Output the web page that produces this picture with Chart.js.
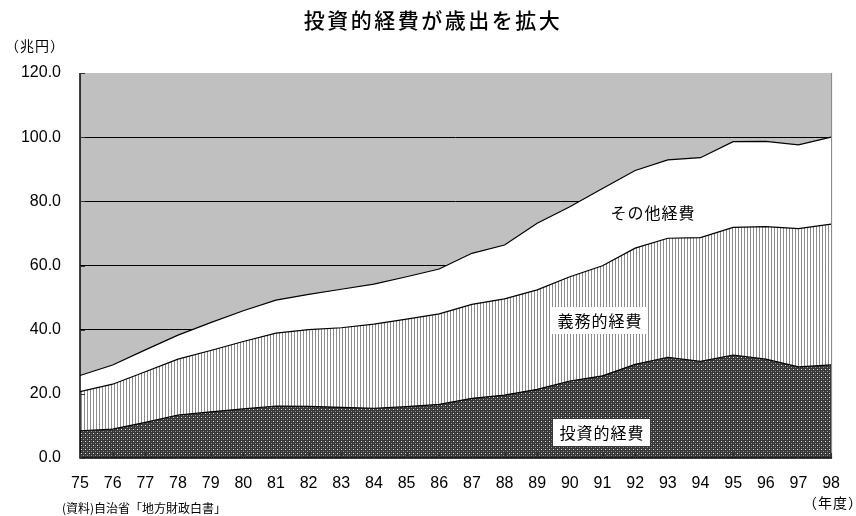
<!DOCTYPE html>
<html>
<head>
<meta charset="utf-8">
<script src="https://cdn.jsdelivr.net/npm/chart.js@4/dist/chart.umd.min.js"></script>
<style>
  html, body { margin: 0; padding: 0; background: #ffffff; }
  #wrap { width: 856px; height: 516px; }
</style>
</head>
<body>
<div id="wrap"><canvas id="c" width="856" height="516"></canvas></div>
<script>
// 年度 (fiscal years)
const years = ['75','76','77','78','79','80','81','82','83','84','85','86',
               '87','88','89','90','91','92','93','94','95','96','97','98'];

// 投資的経費 (兆円)
const investment = [8.5, 9.0, 11.1, 13.4, 14.4, 15.3, 16.2, 16.1, 15.8, 15.5, 16.0, 16.7,
                    18.6, 19.6, 21.4, 24.0, 25.6, 29.2, 31.4, 30.1, 32.1, 30.8, 28.4, 29.0];

// 義務的経費 (兆円)
const mandatory = [12.2, 14.0, 15.8, 17.4, 19.1, 21.0, 22.7, 23.9, 24.8, 26.2, 27.3, 28.2,
                   29.3, 30.0, 31.0, 32.5, 34.3, 36.2, 37.1, 38.6, 39.8, 41.3, 43.1, 43.9];

// その他経費 (兆円)
const other = [5.0, 6.0, 6.8, 7.5, 8.7, 9.6, 10.3, 11.0, 12.0, 12.5, 13.2, 14.0,
               15.9, 16.8, 20.8, 21.8, 24.1, 24.2, 24.4, 24.9, 26.7, 26.6, 26.1, 27.1];

// y-axis range
const yMin = 0, yMax = 120, yStep = 20;

// --- fill patterns ---
function makePattern(w, h, paint) {
  const c = document.createElement('canvas');
  c.width = w; c.height = h;
  const g = c.getContext('2d');
  paint(g);
  return document.getElementById('c').getContext('2d').createPattern(c, 'repeat');
}
// fine dots on dark grey
const dotPattern = makePattern(4, 4, g => {
  g.fillStyle = '#363636'; g.fillRect(0, 0, 4, 4);
  g.fillStyle = '#e8e8e8'; g.fillRect(1, 1, 1, 1);
  g.fillStyle = '#9a9a9a'; g.fillRect(3, 3, 1, 1);
  g.fillStyle = '#5a5a5a'; g.fillRect(3, 1, 1, 1);
  g.fillStyle = '#5a5a5a'; g.fillRect(1, 3, 1, 1);
});
// thin vertical stripes on white
const stripePattern = makePattern(3, 1, g => {
  g.fillStyle = '#ffffff'; g.fillRect(0, 0, 3, 1);
  g.fillStyle = '#8c8c8c'; g.fillRect(0, 0, 1, 1);
});

const CJK = '"Noto Sans CJK JP", "Noto Sans CJK SC", sans-serif';
const NUM = '"Liberation Sans", Arial, sans-serif';

// grey plot background
const plotBackground = {
  id: 'plotBackground',
  beforeDraw(chart) {
    const { ctx, chartArea: a } = chart;
    ctx.save();
    ctx.fillStyle = '#c0c0c0';
    ctx.fillRect(a.left, a.top, a.right - a.left, a.bottom - a.top);
    ctx.restore();
  }
};

// axes, inner tick marks, series labels and captions
const decorations = {
  id: 'decorations',
  afterDatasetsDraw(chart) {
    const { ctx, chartArea: a, scales } = chart;
    const xs = scales.x, ys = scales.y;
    ctx.save();

    // right frame
    ctx.strokeStyle = '#808080';
    ctx.lineWidth = 1;
    ctx.beginPath();
    ctx.moveTo(a.right + 0.5, a.top);
    ctx.lineTo(a.right + 0.5, a.bottom);
    ctx.stroke();

    // axis lines
    ctx.strokeStyle = '#000000';
    ctx.lineWidth = 1.5;
    ctx.beginPath();
    ctx.moveTo(a.left, a.top);
    ctx.lineTo(a.left, a.bottom);
    ctx.lineTo(a.right + 1, a.bottom);
    ctx.stroke();

    // inward tick marks
    ctx.strokeStyle = '#333333';
    ctx.lineWidth = 1;
    ctx.beginPath();
    for (let v = yMin; v <= yMax; v += yStep) {
      const y = Math.round(ys.getPixelForValue(v)) + 0.5;
      ctx.moveTo(a.left, y);
      ctx.lineTo(a.left + 5, y);
    }
    for (let i = 0; i < years.length; i++) {
      const x = Math.round(xs.getPixelForValue(i)) + 0.5;
      ctx.moveTo(x, a.bottom);
      ctx.lineTo(x, a.bottom - 5);
    }
    ctx.stroke();

    // series labels
    ctx.textBaseline = 'middle';
    ctx.textAlign = 'center';
    ctx.font = '16px ' + CJK;
    ctx.letterSpacing = '1px';
    const boxes = [
      { text: 'その他経費', x: 652, y: 212, box: false },
      { text: '義務的経費', x: 599, y: 320, box: true },
      { text: '投資的経費', x: 601, y: 432, box: true }
    ];
    boxes.forEach(b => {
      if (b.box) {
        ctx.fillStyle = '#ffffff';
        ctx.fillRect(b.x - 48, b.y - 13, 97, 27);
      }
      ctx.fillStyle = '#000000';
      ctx.fillText(b.text, b.x + 1, b.y + 1);
    });

    // title
    ctx.font = '500 21px ' + CJK;
    ctx.letterSpacing = '2.5px';
    ctx.fillText('投資的経費が歳出を拡大', 433, 20);

    // unit captions
    ctx.font = '14px ' + CJK;
    ctx.letterSpacing = '1px';
    ctx.textAlign = 'left';
    ctx.fillText('（兆円）', 5, 46);
    ctx.fillText('（年度）', 803, 503);
    ctx.letterSpacing = '0px';
    ctx.font = '12px ' + CJK;
    ctx.fillText('(資料)自治省「地方財政白書」', 62, 508);

    ctx.restore();
  }
};

new Chart(document.getElementById('c'), {
  type: 'line',
  data: {
    labels: years,
    datasets: [
      {
        label: '投資的経費',
        data: investment,
        fill: 'origin',
        backgroundColor: dotPattern,
        borderColor: '#000000',
        borderWidth: 1.2
      },
      {
        label: '義務的経費',
        data: mandatory,
        fill: '-1',
        backgroundColor: stripePattern,
        borderColor: '#000000',
        borderWidth: 1.2
      },
      {
        label: 'その他経費',
        data: other,
        fill: '-1',
        backgroundColor: '#ffffff',
        borderColor: '#000000',
        borderWidth: 1.2
      }
    ]
  },
  options: {
    responsive: false,
    animation: false,
    events: [],
    layout: { padding: { top: 73, right: 13, left: 0, bottom: 0 } },
    elements: { point: { radius: 0 }, line: { tension: 0 } },
    plugins: {
      legend: { display: false },
      tooltip: { enabled: false },
      title: { display: false }
    },
    scales: {
      x: {
        offset: false,
        grid: { display: false, drawTicks: false },
        border: { display: false },
        ticks: {
          color: '#000000',
          font: { family: NUM, size: 16 },
          padding: 16,
          maxRotation: 0,
          autoSkip: false
        },
        afterFit(s) { s.height = 58; }
      },
      y: {
        stacked: true,
        min: yMin,
        max: yMax,
        grid: {
          drawTicks: false,
          color: ctx => (ctx.tick && (ctx.tick.value === yMax || ctx.tick.value === yMin)) ? 'rgba(0,0,0,0)' : '#000000',
          lineWidth: 1
        },
        border: { display: false },
        ticks: {
          stepSize: yStep,
          color: '#000000',
          font: { family: NUM, size: 16 },
          padding: 19,
          callback: v => Number(v).toFixed(1)
        },
        afterFit(s) { s.width = 80; }
      }
    }
  },
  plugins: [plotBackground, decorations]
});
</script>
</body>
</html>
